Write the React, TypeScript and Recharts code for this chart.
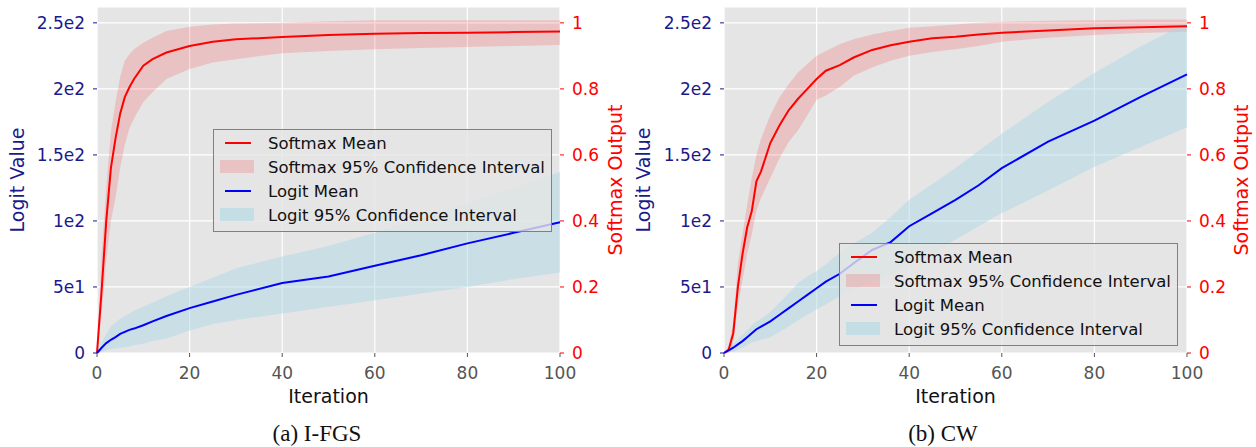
import React from 'react'
import {
  ComposedChart,
  Area,
  Line,
  XAxis,
  YAxis,
  CartesianGrid,
  Legend,
} from 'recharts'

// ---- shared axis ticks ----
const X_TICKS = [0, 20, 40, 60, 80, 100]
const LOGIT_TICKS = [0, 50, 100, 150, 200, 250]
const LOGIT_TICK_LABELS = ['0', '5e1', '1e2', '1.5e2', '2e2', '2.5e2']
const SOFTMAX_TICKS = [0, 0.2, 0.4, 0.6, 0.8, 1]
const SOFTMAX_TICK_LABELS = ['0', '0.2', '0.4', '0.6', '0.8', '1']

const LEGEND_ITEMS = [
  { label: 'Softmax Mean', kind: 'line', color: '#ff0000' },
  { label: 'Softmax 95% Confidence Interval', kind: 'patch', color: 'rgba(255,0,0,0.15)' },
  { label: 'Logit Mean', kind: 'line', color: '#0000ff' },
  { label: 'Logit 95% Confidence Interval', kind: 'patch', color: 'rgba(173,216,230,0.6)' },
]

// ---- (a) I-FGS ----
const ITER_A = [0, 1, 2, 3, 4, 5, 6, 7, 8, 10, 12, 15, 20, 25, 30, 40, 50, 60, 70, 80, 90, 100]
const SOFTMAX_MEAN_A = [0, 0.19, 0.4, 0.56, 0.65, 0.725, 0.775, 0.805, 0.83, 0.87, 0.89, 0.91, 0.93, 0.943, 0.95, 0.957, 0.963, 0.967, 0.969, 0.97, 0.972, 0.974]
const SOFTMAX_LO_A = [0, 0.12, 0.28, 0.4, 0.47, 0.56, 0.63, 0.68, 0.71, 0.76, 0.79, 0.83, 0.86, 0.88, 0.89, 0.908, 0.915, 0.92, 0.924, 0.927, 0.93, 0.933]
const SOFTMAX_HI_A = [0, 0.3, 0.5, 0.67, 0.76, 0.836, 0.885, 0.905, 0.92, 0.94, 0.955, 0.975, 0.988, 0.995, 0.998, 1.0, 1.005, 1.008, 1.008, 1.008, 1.008, 1.008]
const LOGIT_MEAN_A = [0, 4, 7.5, 10, 12, 14.5, 16, 17.5, 18.5, 21, 24, 28, 34, 39, 44, 53, 58, 66, 74, 83, 91, 99]
const LOGIT_LO_A = [0, 1, 2, 3, 3.5, 4, 4.5, 5, 6, 7, 9, 11, 17, 22, 25, 30, 35, 40, 45, 50, 56, 61]
const LOGIT_HI_A = [0, 8, 14, 20, 23, 26, 28, 30, 32, 35, 38, 43, 50, 57, 64, 73, 81, 91, 102, 113, 125, 137]

// ---- (b) CW ----
const ITER_B = [0, 1, 2, 3, 4, 5, 6, 7, 8, 10, 12, 14, 16, 18, 20, 22, 25, 28, 32, 36, 40, 45, 50, 55, 60, 70, 80, 90, 100]
const SOFTMAX_MEAN_B = [0, 0.01, 0.06, 0.2, 0.3, 0.38, 0.43, 0.52, 0.55, 0.636, 0.69, 0.736, 0.77, 0.8, 0.83, 0.855, 0.872, 0.895, 0.918, 0.932, 0.943, 0.953, 0.958, 0.965, 0.97, 0.977, 0.984, 0.987, 0.99]
const SOFTMAX_LO_B = [0, 0, 0.03, 0.14, 0.22, 0.3, 0.36, 0.43, 0.47, 0.53, 0.59, 0.64, 0.675, 0.72, 0.767, 0.78, 0.806, 0.84, 0.865, 0.885, 0.9, 0.912, 0.92, 0.93, 0.943, 0.955, 0.963, 0.969, 0.973]
const SOFTMAX_HI_B = [0, 0.02, 0.09, 0.27, 0.36, 0.45, 0.53, 0.6, 0.65, 0.72, 0.775, 0.815, 0.85, 0.875, 0.9, 0.915, 0.935, 0.95, 0.965, 0.975, 0.985, 0.99, 0.995, 1.0, 1.003, 1.006, 1.008, 1.01, 1.01]
const LOGIT_MEAN_B = [0, 2, 4, 6.5, 9, 12, 15, 18, 20, 24, 29, 34, 39, 44, 49, 54, 60, 68, 78, 84, 96, 106, 116, 127, 140, 160, 176, 194, 211]
const LOGIT_LO_B = [0, 0.5, 1, 2.5, 4, 6, 8, 9, 10, 12, 16, 20, 25, 29, 33, 37, 43, 48, 54, 60, 67, 76, 86, 96, 106, 123, 141, 156, 171]
const LOGIT_HI_B = [0, 4, 7, 10, 14, 17, 21, 24, 26, 31, 38, 45, 53, 58, 62, 67, 76, 83, 91, 103, 116, 128, 140, 153, 166, 190, 212, 232, 250]

const NAVY = '#1a1a8c'
const RED = '#ff0000'
const FONT = '"DejaVu Sans", Verdana, sans-serif'

function buildRows(
  iter: number[],
  sMean: number[],
  sLo: number[],
  sHi: number[],
  lMean: number[],
  lLo: number[],
  lHi: number[]
) {
  return iter.map((it, i) => ({
    it,
    sMean: sMean[i],
    sBand: [sLo[i], sHi[i]],
    lMean: lMean[i],
    lBand: [lLo[i], lHi[i]],
  }))
}

const dataA = buildRows(ITER_A, SOFTMAX_MEAN_A, SOFTMAX_LO_A, SOFTMAX_HI_A, LOGIT_MEAN_A, LOGIT_LO_A, LOGIT_HI_A)
const dataB = buildRows(ITER_B, SOFTMAX_MEAN_B, SOFTMAX_LO_B, SOFTMAX_HI_B, LOGIT_MEAN_B, LOGIT_LO_B, LOGIT_HI_B)

function LegendBox() {
  return (
    <div
      style={{
        width: 339,
        height: 103,
        boxSizing: 'border-box',
        border: '1px solid #808080',
        background: 'rgba(229,229,229,0.8)',
        paddingTop: 1,
        fontFamily: FONT,
        fontSize: 16.5,
        color: '#111',
      }}>
      {LEGEND_ITEMS.map((item) => (
        <div key={item.label} style={{ display: 'flex', alignItems: 'center', height: 24 }}>
          <div style={{ width: 54, position: 'relative', height: 24 }}>
            {item.kind === 'line' ? (
              <div style={{ position: 'absolute', left: 11, top: 11, width: 26, height: 2, background: item.color }} />
            ) : (
              <div style={{ position: 'absolute', left: 6, top: 5, width: 34, height: 13, background: item.color }} />
            )}
          </div>
          <span style={{ whiteSpace: 'nowrap' }}>{item.label}</span>
        </div>
      ))}
    </div>
  )
}

function vLabel(text: string, color: string, x: number) {
  return {
    content: ({ viewBox }: any) => {
      const cy = viewBox.y + viewBox.height / 2
      return (
        <text
          x={x}
          y={cy}
          transform={`rotate(-90 ${x} ${cy})`}
          textAnchor="middle"
          dominantBaseline="central"
          fill={color}
          fontSize={19}
          fontFamily={FONT}>
          {text}
        </text>
      )
    },
  }
}

interface PanelProps {
  data: any[]
  leftWidth: number
  rightWidth: number
  legendLeft: number
  legendTop: number
  logitLabelX: number
  softLabelX: number
}

function Panel({ data, leftWidth, rightWidth, legendLeft, legendTop, logitLabelX, softLabelX }: PanelProps) {
  return (
    <ComposedChart width={628} height={447} data={data} margin={{ top: 7, right: 0, bottom: 64, left: 0 }}>
      <CartesianGrid yAxisId="logit" xAxisId="x" fill="#e5e5e5" stroke="#ffffff" strokeWidth={1.2} />
      <XAxis
        xAxisId="x"
        dataKey="it"
        type="number"
        domain={[0, 100]}
        ticks={X_TICKS}
        axisLine={false}
        tickSize={4}
        tickMargin={10}
        tickLine={{ stroke: '#555' }}
        tick={{ fill: '#555', fontSize: 17 }}
        height={30}
        label={{ value: 'Iteration', position: 'bottom', offset: 7, fill: '#111', fontSize: 19 }}
      />
      <YAxis
        yAxisId="logit"
        orientation="left"
        domain={[0, 262]}
        ticks={LOGIT_TICKS}
        tickFormatter={(v: number) => LOGIT_TICK_LABELS[LOGIT_TICKS.indexOf(v)]}
        width={leftWidth}
        axisLine={false}
        tickSize={4}
        tickMargin={8}
        tickLine={{ stroke: NAVY }}
        tick={{ fill: NAVY, fontSize: 17 }}
        label={vLabel('Logit Value', NAVY, logitLabelX)}
      />
      <YAxis
        yAxisId="soft"
        orientation="right"
        domain={[0, 1.048]}
        ticks={SOFTMAX_TICKS}
        tickFormatter={(v: number) => SOFTMAX_TICK_LABELS[SOFTMAX_TICKS.indexOf(v)]}
        width={rightWidth}
        axisLine={false}
        tickSize={4}
        tickMargin={8}
        tickLine={{ stroke: RED }}
        tick={{ fill: RED, fontSize: 17 }}
        label={vLabel('Softmax Output', RED, softLabelX)}
      />
      <Area
        xAxisId="x"
        yAxisId="soft"
        type="linear"
        dataKey="sBand"
        stroke="none"
        fill="#ff0000"
        fillOpacity={0.15}
        dot={false}
        activeDot={false}
        isAnimationActive={false}
      />
      <Area
        xAxisId="x"
        yAxisId="logit"
        type="linear"
        dataKey="lBand"
        stroke="none"
        fill="#add8e6"
        fillOpacity={0.5}
        dot={false}
        activeDot={false}
        isAnimationActive={false}
      />
      <Line
        xAxisId="x"
        yAxisId="soft"
        type="linear"
        dataKey="sMean"
        stroke={RED}
        strokeWidth={2}
        dot={false}
        isAnimationActive={false}
      />
      <Line
        xAxisId="x"
        yAxisId="logit"
        type="linear"
        dataKey="lMean"
        stroke="#0000ff"
        strokeWidth={2}
        dot={false}
        isAnimationActive={false}
      />
      <Legend
        layout="vertical"
        align="center"
        verticalAlign="middle"
        content={() => <LegendBox />}
        wrapperStyle={{ left: legendLeft, top: legendTop, width: 339, height: 103 }}
      />
    </ComposedChart>
  )
}

const captionStyle: React.CSSProperties = {
  position: 'absolute',
  top: 419,
  width: 300,
  textAlign: 'center',
  fontFamily: '"Liberation Serif", "Times New Roman", serif',
  fontSize: 23,
  color: '#111',
  lineHeight: '30px',
}

export default function App() {
  return (
    <div style={{ position: 'relative', width: 1256, height: 447, background: '#fff', fontFamily: FONT, overflow: 'hidden' }}>
      <style>{'body{margin:0}'}</style>
      <div style={{ position: 'absolute', left: 0, top: 0 }}>
        <Panel data={dataA} leftWidth={97} rightWidth={68} legendLeft={213} legendTop={129} logitLabelX={17} softLabelX={615} />
      </div>
      <div style={{ position: 'absolute', left: 628, top: 0 }}>
        <Panel data={dataB} leftWidth={96} rightWidth={69} legendLeft={211} legendTop={243} logitLabelX={15} softLabelX={613} />
      </div>
      <div style={{ ...captionStyle, left: 317 - 150 }}>(a) I-FGS</div>
      <div style={{ ...captionStyle, left: 943 - 150 }}>(b) CW</div>
    </div>
  )
}
